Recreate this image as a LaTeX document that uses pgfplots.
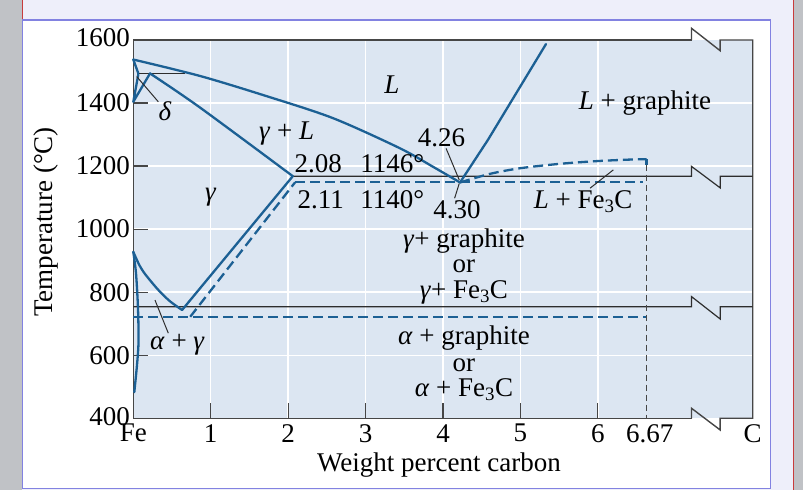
\documentclass[border=0pt]{standalone}
\usepackage{fontspec}
\setmainfont{Liberation Serif}
\usepackage{pgfplots}
\pgfplotsset{compat=1.18}

\definecolor{bgblue}{RGB}{220,230,242}
\definecolor{lineblue}{RGB}{28,96,148}
\definecolor{darkline}{RGB}{45,45,45}
\definecolor{framegrey}{RGB}{70,70,70}
\definecolor{lavender}{RGB}{238,239,250}
\definecolor{panelborder}{RGB}{130,130,225}
\definecolor{sidegrey}{RGB}{192,194,198}
\definecolor{redline}{RGB}{200,60,60}

\newcommand\lf{\fontsize{27bp}{32bp}\selectfont}

\pgfplotsset{
  phase/.style={no markers, color=lineblue, line width=2.3bp, line join=round, line cap=round},
  phasedash/.style={no markers, color=lineblue, line width=2.3bp, dash pattern=on 10bp off 5bp},
  blk/.style={no markers, color=darkline, line width=1.2bp},
  leader/.style={no markers, color=darkline, line width=1bp},
  frm/.style={no markers, color=framegrey, line width=1.4bp, line join=miter},
}
\tikzset{lab/.style={font=\lf, inner sep=0pt, anchor=center}}

\begin{document}
\begin{tikzpicture}
\path[use as bounding box] (0,0) rectangle (803bp,490bp);
% slide surroundings
\fill[lavender] (0,0) rectangle (803bp,490bp);
\fill[sidegrey] (0,0) rectangle (22bp,490bp);
\fill[sidegrey] (793.5bp,0) rectangle (803bp,490bp);
\draw[redline, line width=1bp] (22.7bp,470bp) -- (22.7bp,490bp);
\draw[redline, line width=1bp] (793.3bp,0) -- (793.3bp,490bp);
\filldraw[fill=white, draw=panelborder, line width=1.5bp] (22.7bp,1.7bp) rectangle (770.7bp,470bp);

\begin{axis}[
  at={(133.3bp,71.7bp)}, anchor=south west,
  scale only axis, width=619.4bp, height=378.3bp,
  xmin=0, xmax=8, ymin=400, ymax=1600,
  clip=false,
  axis line style={draw=none},
  axis background/.style={fill=bgblue},
  grid=major, major grid style={white, line width=1.4bp},
  xtick={1,...,6}, ytick={600,800,...,1400},
  extra x ticks={0,6.67,8}, extra x tick labels={Fe,6.67,C},
  extra y ticks={400,1600},
  extra tick style={grid=none, major tick length=0pt},
  extra y tick style={yticklabel style={yshift=2bp}},
  tick align=inside, xtick pos=bottom, ytick pos=left,
  major tick length=15bp,
  tick style={framegrey, line width=1.2bp},
  tick label style={font=\lf},
  xticklabel style={yshift=-2.5bp},
  /pgf/number format/assume math mode=true,
  /pgf/number format/1000 sep={},
  xlabel={Weight percent carbon},
  ylabel={Temperature (°C)},
  label style={font=\lf},
  xlabel style={at={(axis description cs:0.4935,-0.082)}, anchor=north},
  ylabel style={at={(axis description cs:-0.141,0.519)}, anchor=center},
]
% frame with breaks
\addplot[frm] coordinates {(7.21,400) (0,400) (0,1600) (7.21,1600)};
\addplot[frm] coordinates {(7.21,1600) (7.21,1637) (7.58,1566) (7.58,1600) (8,1600) (8,400) (7.58,400) (7.58,363) (7.21,431.7) (7.21,400)};

% horizontal reaction lines
\addplot[blk] coordinates {(0.065,1494) (0.67,1494)};
\addplot[blk] coordinates {(2.06,1168) (7.21,1168) (7.21,1199) (7.58,1131) (7.58,1168) (8,1168)};
\addplot[blk] coordinates {(0,754) (7.21,754) (7.21,786) (7.58,715) (7.58,754) (8,754)};

% Fe-C (graphite) dashed lines
\addplot[phasedash] coordinates {(2.09,1148.6) (6.58,1148.6)};
\addplot[phasedash] coordinates {(0,722) (6.63,722)};
\addplot[phasedash] coordinates {(0.735,722) (2.09,1148.6)};
\addplot[phasedash, smooth] coordinates {(4.22,1148) (4.6,1175) (4.99,1193) (5.5,1207) (6.0,1216) (6.45,1221) (6.63,1222)};
\addplot[phasedash] coordinates {(6.63,1222) (6.63,1202)};
\addplot[no markers, color=framegrey, line width=1.3bp, dash pattern=on 6bp off 4bp] coordinates {(6.63,1205) (6.63,400)};

% solid phase boundaries
\addplot[phase, smooth] coordinates {(0,1538) (0.86,1486) (1.72,1422) (2.58,1352) (3.44,1257) (3.87,1198) (4.22,1148)};
\addplot[phase] coordinates {(4.22,1148) (4.58,1283) (5.33,1587)};
\addplot[phase, smooth] coordinates {(0.216,1494) (0.86,1386) (2.06,1168)};
\addplot[phase] coordinates {(0,1538) (0.065,1494)};
\addplot[phase] coordinates {(0.065,1491) (0,1404) (0.216,1494)};
\addplot[phase] coordinates {(0.63,743.5) (2.06,1168)};
\addplot[phase, smooth] coordinates {(0,928) (0.08,885) (0.16,855) (0.32,808) (0.47,772) (0.63,743.5)};
\addplot[phase, smooth] coordinates {(0,928) (0.035,860) (0.06,753) (0.068,647) (0.05,575) (0.013,483)};

% leaders
\addplot[leader] coordinates {(0.044,1484) (0.323,1404)};
\addplot[leader] coordinates {(4.04,1256) (4.21,1156)};
\addplot[leader] coordinates {(4.21,1145) (4.15,1098)};
\addplot[leader] coordinates {(5.90,1130) (6.20,1188)};
\addplot[leader] coordinates {(0.28,775) (0.452,670)};

% labels
\node[lab] at (axis cs:3.34,1457) {\textit{L}};
\node[lab] at (axis cs:6.61,1400) {\textit{L} + graphite};
\node[lab] at (axis cs:1.98,1302) {\textit{γ} + \textit{L}};
\node[lab] at (axis cs:3.98,1291) {4.26};
\node[lab, anchor=west] at (axis cs:2.08,1207) {2.08};
\node[lab, anchor=west] at (axis cs:2.93,1207) {1146°};
\node[lab, anchor=west] at (axis cs:2.12,1092.5) {2.11};
\node[lab, anchor=west] at (axis cs:2.93,1092.5) {1140°};
\node[lab] at (axis cs:4.18,1061) {4.30};
\node[lab] at (axis cs:1.0,1102) {\textit{γ}};
\node[lab] at (axis cs:0.41,1375) {\textit{δ}};
\node[lab] at (axis cs:5.81,1087) {\textit{L} + Fe\textsubscript{3}C};
\node[lab] at (axis cs:4.27,962) {\textit{γ}+ graphite};
\node[lab] at (axis cs:4.27,883) {or};
\node[lab] at (axis cs:4.27,799) {\textit{γ}+ Fe\textsubscript{3}C};
\node[lab] at (axis cs:4.27,655) {\textit{α} + graphite};
\node[lab] at (axis cs:4.27,569) {or};
\node[lab] at (axis cs:4.27,490) {\textit{α} + Fe\textsubscript{3}C};
\node[lab] at (axis cs:0.57,632.5) {\textit{α} + \textit{γ}};
\end{axis}
\end{tikzpicture}
\end{document}
